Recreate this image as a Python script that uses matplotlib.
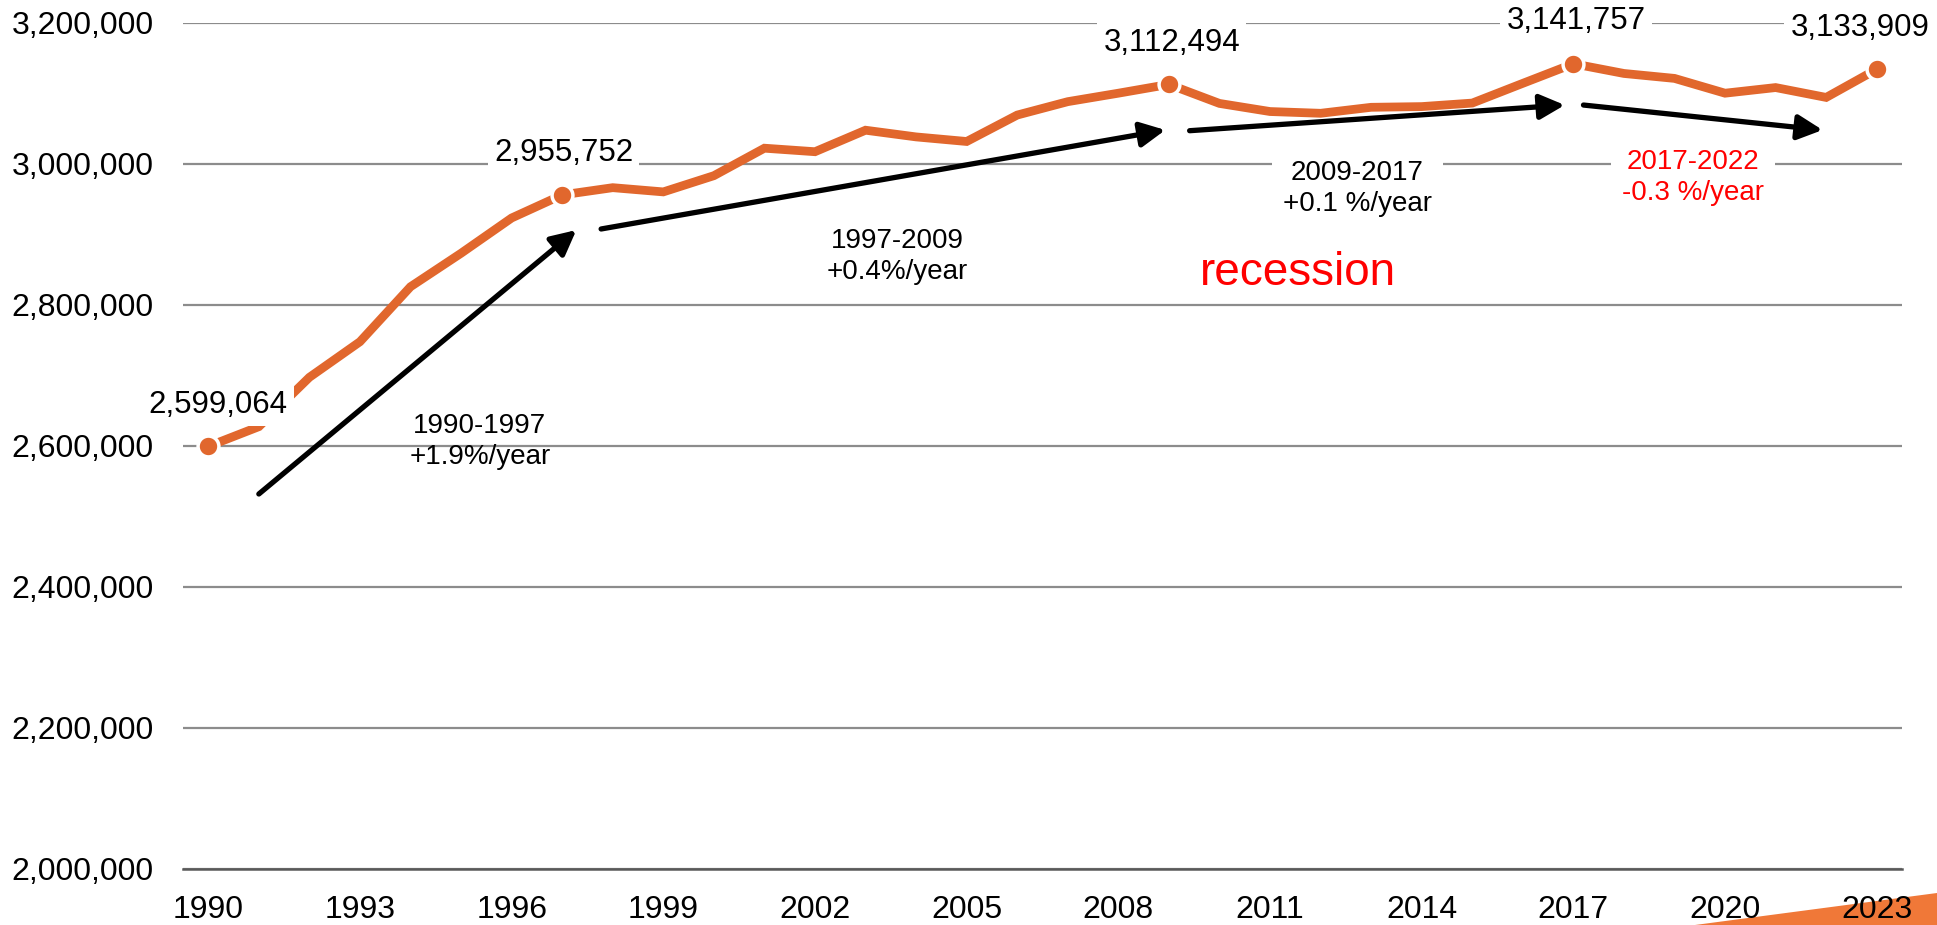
import matplotlib
matplotlib.use('Agg')
import matplotlib.pyplot as plt
from matplotlib.patches import Polygon

plt.rcParams['font.family'] = ['Liberation Sans', 'DejaVu Sans']

# population by year
years = list(range(1990, 2024))
population = [2599064, 2627000, 2697000, 2747500, 2825500, 2873000, 2923000, 2955752,
              2966000, 2960000, 2983000, 3022000, 3017000, 3047500, 3038000, 3031500,
              3069000, 3088000, 3100000, 3112494, 3085500, 3074000, 3071500, 3080000,
              3081000, 3086000, 3114000, 3141757, 3128000, 3121000, 3100000, 3108000,
              3094000, 3133909]

# years with a highlighted point and value label
marked_years = [1990, 1997, 2009, 2017, 2023]
label_shift = [(7, 30), (1, 30), (2, 30), (2, 31), (-12, 30)]

# trend arrows: (start year, start value, end year, end value)
arrows = [(1991.0, 2531500, 1997.28, 2905900),
          (1997.77, 2907400, 2008.93, 3047800),
          (2009.41, 3046800, 2016.83, 3083200),
          (2017.2, 3083200, 2021.93, 3047800)]

# trend notes: (x, y, text, colour, boxed)
notes = [(1995.37, 2606600, '1990-1997\n+1.9%/year', 'black', False),
         (2003.63, 2868300, '1997-2009\n+0.4%/year', 'black', False),
         (2012.73, 2965500, '2009-2017\n+0.1 %/year', 'black', True),
         (2019.37, 2981100, '2017-2022\n-0.3 %/year', '#FF0000', True)]

orange = '#E1672D'

fig = plt.figure(figsize=(19.37, 9.25), dpi=100)
ax = fig.add_axes([183/1937, 1-868.7/925, (1902-183)/1937, (868.7-22.7)/925])
ax.set_facecolor('none')

ax.plot(years, population, color=orange, lw=6.3, solid_joinstyle='miter', zorder=3)

for yr, (dx, dy) in zip(marked_years, label_shift):
    val = population[years.index(yr)]
    ax.plot(yr, val, 'o', ms=15, color=orange, mec='white', mew=2.5, zorder=4)
    ax.annotate('{:,}'.format(val), (yr, val), xytext=(dx, dy), textcoords='offset points',
                ha='center', va='center', fontsize=22.5, zorder=5,
                bbox=dict(boxstyle='square,pad=0.2', fc='white', ec='none'))

for x0, y0, x1, y1 in arrows:
    ax.annotate('', xy=(x1, y1), xytext=(x0, y0),
                arrowprops=dict(arrowstyle='-|>,head_length=0.5,head_width=0.25',
                                color='black', lw=3.8, mutation_scale=30,
                                shrinkA=0, shrinkB=0, capstyle='round'), zorder=4)

for x, y, txt, col, boxed in notes:
    bb = dict(boxstyle='square,pad=0.4', fc='white', ec='none') if boxed else None
    ax.text(x, y, txt, ha='center', va='center', multialignment='center',
            fontsize=20, color=col, linespacing=1.25, bbox=bb, zorder=5)

ax.text(2011.56, 2845000, 'recession', ha='center', va='center', fontsize=33,
        color='#FF0000', zorder=5)

ax.set_xlim(1989.5, 2023.5)
ax.set_ylim(2000000, 3200000)
ax.set_xticks(range(1990, 2024, 3))
ax.set_yticks(range(2000000, 3200001, 200000))
ax.yaxis.set_major_formatter(matplotlib.ticker.FuncFormatter(lambda v, p: '{:,}'.format(int(v))))
ax.tick_params(axis='both', length=0, labelsize=23)
ax.tick_params(axis='y', pad=21)
ax.tick_params(axis='x', pad=19)
ax.grid(axis='y', color='#8C8C8C', lw=1.6, zorder=0)
for s in ['top', 'right', 'left']:
    ax.spines[s].set_visible(False)
ax.spines['bottom'].set_color('#595959')
ax.spines['bottom'].set_linewidth(1.8)

# decorative wedge in the bottom right corner, behind the tick labels
wedge = Polygon([(1695/1937, 0), (1, 1-893/925), (1, 0)], closed=True,
                transform=fig.transFigure, fc='#F07838', ec='none', zorder=-1)
fig.patches.append(wedge)

fig.savefig('out.png', dpi=100)
